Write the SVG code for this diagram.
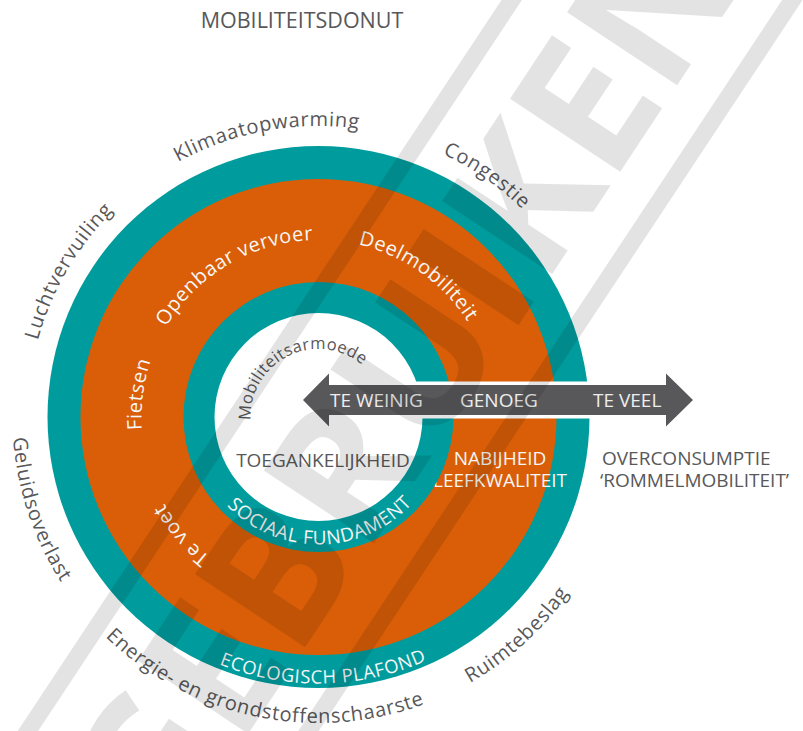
<svg xmlns="http://www.w3.org/2000/svg" width="803" height="731" viewBox="0 0 803 731">
  <defs>
    <style>
      text { font-family: "Open Sans", "Liberation Sans", sans-serif; }
      .ink { fill: #58585a; }
      .light { fill: #f6f6f6; }
      .outer { font-size: 20px; letter-spacing: 0.7px; }
      .band { font-size: 20px; letter-spacing: 0.5px; }
      .ring { font-size: 18.5px; letter-spacing: 0.6px; }
      .plain { font-size: 19px; }
      .teal { fill: #009c9d; }
      .orange { fill: #d95e07; }
    </style>
    <!-- clockwise circles start at the bottom, counter-clockwise ones at the top -->
    <path id="cwOuter" d="M318.5,708 A291,291 0 1 1 318.5,126 A291,291 0 1 1 318.5,708"/>
    <path id="cwBand" d="M318.5,594 A177,177 0 1 1 318.5,240 A177,177 0 1 1 318.5,594"/>
    <path id="cwCore" d="M318.5,485 A68,68 0 1 1 318.5,349 A68,68 0 1 1 318.5,485"/>
    <path id="ccwOuter" d="M318.5,111 A306,306 0 1 0 318.5,723 A306,306 0 1 0 318.5,111"/>
    <path id="ccwPlafond" d="M318.5,150.5 A266.5,266.5 0 1 0 318.5,683.5 A266.5,266.5 0 1 0 318.5,150.5"/>
    <path id="ccwFundament" d="M318.5,289.5 A127.5,127.5 0 1 0 318.5,544.5 A127.5,127.5 0 1 0 318.5,289.5"/>
  </defs>

  <rect width="803" height="731" fill="#ffffff"/>

  <text class="ink" x="302" y="28" font-size="21.5" text-anchor="middle">MOBILITEITSDONUT</text>

  <!-- donut rings -->
  <g id="plafond">
    <circle class="teal" cx="318.5" cy="417" r="271"/>
    <text class="light ring"><textPath href="#ccwPlafond" startOffset="50.3%" text-anchor="middle">ECOLOGISCH PLAFOND</textPath></text>
  </g>
  <g id="ruimte">
    <circle class="orange" cx="318.5" cy="417" r="238"/>
    <text class="light band"><textPath href="#cwBand" startOffset="41.5%" text-anchor="middle">Openbaar vervoer</textPath></text>
    <text class="light band"><textPath href="#cwBand" startOffset="59.8%" text-anchor="middle">Deelmobiliteit</textPath></text>
    <text class="light band"><textPath href="#cwBand" startOffset="27%" text-anchor="middle">Fietsen</textPath></text>
    <text class="light band"><textPath href="#cwBand" startOffset="13.7%" text-anchor="middle">Te voet</textPath></text>
    <text class="light plain" x="500" y="465" text-anchor="middle">NABIJHEID</text>
    <text class="light plain" x="500" y="487" text-anchor="middle">LEEFKWALITEIT</text>
  </g>
  <g id="fundament">
    <circle class="teal" cx="318.5" cy="417" r="135"/>
    <text class="light" font-size="19" letter-spacing="0.6"><textPath href="#ccwFundament" startOffset="50.2%" text-anchor="middle">SOCIAAL FUNDAMENT</textPath></text>
  </g>
  <g id="kern">
    <circle fill="#ffffff" cx="318.5" cy="417" r="104"/>
    <text class="ink" font-size="16.5" letter-spacing="0.4"><textPath href="#cwCore" startOffset="42.7%" text-anchor="middle">Mobiliteitsarmoede</textPath></text>
    <text class="ink plain" x="323" y="467" text-anchor="middle">TOEGANKELIJKHEID</text>
  </g>

  <!-- pressures outside the ceiling -->
  <g id="druk" class="ink outer">
    <text><textPath href="#cwOuter" startOffset="47.1%" text-anchor="middle">Klimaatopwarming</textPath></text>
    <text><textPath href="#cwOuter" startOffset="59.7%" text-anchor="middle">Congestie</textPath></text>
    <text><textPath href="#cwOuter" startOffset="33.4%" text-anchor="middle">Luchtvervuiling</textPath></text>
    <text><textPath href="#ccwOuter" startOffset="30.1%" text-anchor="middle">Geluidsoverlast</textPath></text>
    <text><textPath href="#ccwOuter" startOffset="46.7%" text-anchor="middle">Energie- en grondstoffenschaarste</textPath></text>
    <text><textPath href="#ccwOuter" startOffset="61.75%" text-anchor="middle">Ruimtebeslag</textPath></text>
  </g>
  <g id="overconsumptie" class="ink plain">
    <text x="602" y="465">OVERCONSUMPTIE</text>
    <text x="600" y="487">‘ROMMELMOBILITEIT’</text>
  </g>

  <!-- scale arrow -->
  <g id="schaal">
    <rect x="329" y="381.5" width="337" height="37" fill="#ffffff"/>
    <polygon fill="#58585a" points="303,400 329,373.5 329,385 666,385 666,373.5 693,400 666,426.5 666,415 329,415 329,426.5"/>
    <g class="plain" fill="#eeeeee">
      <text x="330" y="407">TE WEINIG</text>
      <text x="460" y="407">GENOEG</text>
      <text x="593" y="407">TE VEEL</text>
    </g>
  </g>

  <!-- diagonal stamp over the whole sheet -->
  <g id="stempel" fill="#000000" opacity="0.105" transform="translate(382,408) rotate(-56.5)">
    <rect x="-900" y="-125.5" width="1800" height="17"/>
    <rect x="-900" y="108.5" width="1800" height="17"/>
    <text x="35" y="68" font-family="Liberation Sans, sans-serif" font-weight="bold" font-size="185" text-anchor="middle">GEBRUIKEN</text>
  </g>
</svg>
